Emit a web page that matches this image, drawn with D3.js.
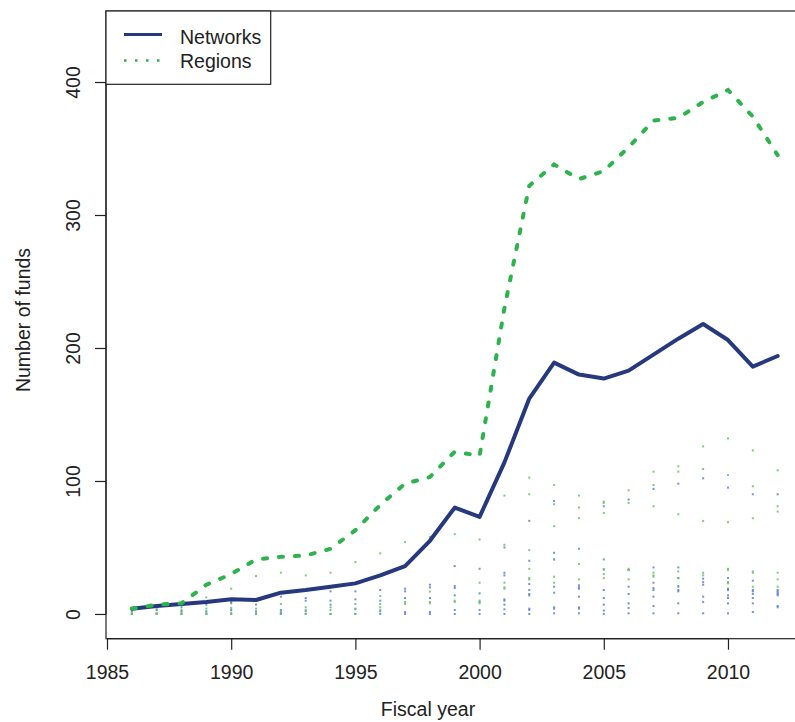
<!DOCTYPE html>
<html><head><meta charset="utf-8">
<script src="https://cdn.jsdelivr.net/npm/d3@7"></script>
<style>
html,body{margin:0;padding:0;background:#fff;}
svg{display:block;font-family:"Liberation Sans",Arial,sans-serif;}
</style></head>
<body>
<svg id="c" width="795" height="722"></svg>
<script>
const years = [1986,1987,1988,1989,1990,1991,1992,1993,1994,1995,1996,1997,1998,1999,2000,2001,2002,2003,2004,2005,2006,2007,2008,2009,2010,2011,2012];
const networks = [4,6,7.5,9,11,10.5,16,18,20.5,23,29,36,55,80,73,114,162,189,180,177,183,195,207,218,206,186,194];
const regions = [4,7,8,22,30,41,43,44,49,63,82,98,103,122,119,230,322,338,327,333,351,371,373,385,394,374,345];
const networkDots = [
 [0,2],[0,3],[0,2,5],[0,2,7],[0,3,8,9],[0,2,7],[0,1,3,13],[0,2,10,12],[0,7,10,17],[0,4,11,17],
 [0,2,10,18],[0,1.5,12,17,19],[0,1.5,12,20,22],[0,3,14,19.5,21,36],[0,3,9,15.5,34],
 [0,3.5,7,10,11,29,31,50],[0,3,4,14,15,18,22.5,40,70],[0.5,4,5,16,20.5,41,46,85],
 [0.5,4,5,13,19,20,21.5,49],[0,2.5,7,12,18,33.5,41,81],[0.5,4.5,8,15,20.5,33,86],
 [0.5,6,13,18,19.5,23.5,35,94],[0.5,8,17,18,20.5,27,35,98],[0.5,9,13,22,24,26.5,102],
 [0.5,8,12,14,18,19,27,95],[1.5,8,12,15,17,18,25,90],[5,6,14,15,16,17,18,90]
];
const regionDots = [
 [0,1,3],[0,1,4],[0,1,3],[0,1,4,12.5],[0,1,4.5,19],[0,1,4,28.5],[0,2,7.5,31],[0,3,5,29],[0,3,5,31],[0,3.5,7.5,39],
 [3,5,7.5,13.5,45.6],[7.5,9,54],[8,9,16.8,58],[9,10,60],[8,10,23.5,56],
 [19,20,23.5,52,89],[26,27,34,48,90,102.5],[23.5,28,41,66,82.5,97],[26,37.6,72,80,89],
 [27,30,33.5,76,83.5,84.5],[26,33,34,83.5,93],[28,29,31,81,97,107],[21,27,32,75,107,111],
 [29,31,70,109,126],[23,24,33,34,69,104.5,132],[20.5,31,32,72,96,123],[20.5,26,31,77,81,108]
];
const xTicks = [1985,1990,1995,2000,2005,2010];
const yTicks = [0,100,200,300,400];
const seriesNames = ["Networks","Regions"];

const svg = d3.select("#c");
const L=106, T=11, R=803.5, B=638.7;
const x = d3.scaleLinear().domain([1984.96,2013.04]).range([L,R]);
const y = d3.scaleLinear().domain([-18.6,453.4]).range([B,T]);
const blue="#26397f", green="#2db34b";
const fs=19.5;

// dots
const dotG = svg.append("g");
years.forEach((yr,i)=>{
  networkDots[i].forEach(v=>{
    dotG.append("rect").attr("x",x(yr)-1).attr("y",y(v)-1).attr("width",2).attr("height",2).attr("fill","#5a7fd6").attr("opacity",0.85);
  });
  regionDots[i].forEach(v=>{
    dotG.append("rect").attr("x",x(yr)-1).attr("y",y(v)-1).attr("width",2).attr("height",2).attr("fill","#62c463").attr("opacity",0.85);
  });
});

const line = d3.line().x(d=>x(d[0])).y(d=>y(d[1]));
svg.append("path").datum(years.map((yr,i)=>[yr,networks[i]])).attr("d",line)
  .attr("fill","none").attr("stroke",blue).attr("stroke-width",4).attr("stroke-linejoin","round").attr("stroke-linecap","round");
svg.append("path").datum(years.map((yr,i)=>[yr,regions[i]])).attr("d",line)
  .attr("fill","none").attr("stroke",green).attr("stroke-width",4).attr("stroke-dasharray","4 12").attr("stroke-linecap","round");

// box
svg.append("rect").attr("x",L).attr("y",T).attr("width",R-L).attr("height",B-T).attr("fill","none").attr("stroke","#222").attr("stroke-width",1.2);

// axes
const xa = svg.append("g").attr("transform",`translate(0,${B})`)
  .call(d3.axisBottom(x).tickValues(xTicks).tickFormat(d3.format("d")).tickSize(11).tickPadding(15));
const ya = svg.append("g").attr("transform",`translate(${L},0)`)
  .call(d3.axisLeft(y).tickValues(yTicks).tickSize(11).tickPadding(4));
[xa,ya].forEach(a=>{
  a.select(".domain").attr("stroke","#222").attr("stroke-width",1.2);
  a.selectAll(".tick line").attr("stroke","#222").attr("stroke-width",1.2);
  a.selectAll("text").attr("fill","#222").style("font-size",fs+"px").style("font-family","Liberation Sans, Arial, sans-serif");
});
xa.select(".domain").attr("d",`M${x(1985)},0H${x(2010)}`);
ya.select(".domain").attr("d",`M0,${y(0)}V${y(400)}`);
ya.selectAll(".tick text").attr("x",null).attr("dy",null).attr("text-anchor","middle")
  .attr("transform","translate(-33,0) rotate(-90)").attr("dominant-baseline","central");

// axis titles
svg.append("text").attr("x",428).attr("y",716).attr("text-anchor","middle").attr("fill","#222")
  .style("font-size",fs+"px").text("Fiscal year");
svg.append("text").attr("transform",`translate(23,320) rotate(-90)`).attr("text-anchor","middle")
  .attr("dominant-baseline","central").attr("fill","#222").style("font-size",fs+"px").text("Number of funds");

// legend
const lg = svg.append("g");
lg.append("rect").attr("x",L).attr("y",T).attr("width",270.7-L).attr("height",84.3-T).attr("fill","#fff").attr("stroke","#222").attr("stroke-width",1.2);
lg.append("line").attr("x1",124).attr("x2",162).attr("y1",34.5).attr("y2",34.5).attr("stroke",blue).attr("stroke-width",2.8);
lg.append("line").attr("x1",124).attr("x2",162).attr("y1",60.5).attr("y2",60.5).attr("stroke",green).attr("stroke-width",2.5).attr("stroke-dasharray","2.5 8.5");
lg.append("text").attr("x",180).attr("y",37).attr("dominant-baseline","central").attr("fill","#222").style("font-size",fs+"px").text(seriesNames[0]);
lg.append("text").attr("x",180).attr("y",61).attr("dominant-baseline","central").attr("fill","#222").style("font-size",fs+"px").text(seriesNames[1]);
</script>
</body></html>
